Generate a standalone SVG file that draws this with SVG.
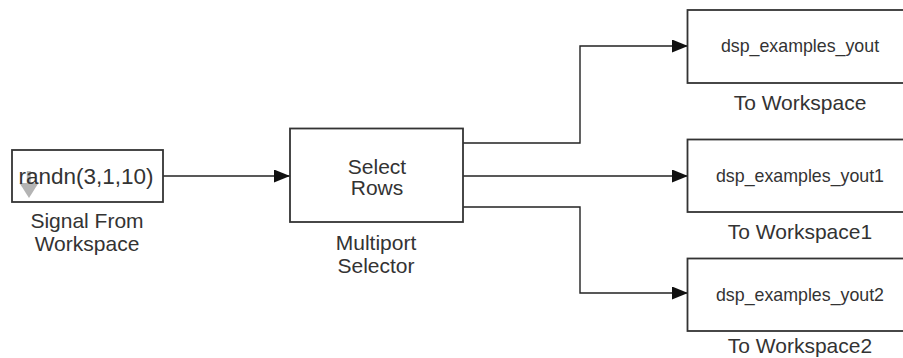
<svg xmlns="http://www.w3.org/2000/svg" width="903" height="358" viewBox="0 0 903 358">
<style>
  .blk { fill: #ffffff; stroke: #333333; stroke-width: 1.8; }
  .wire { fill: none; stroke: #222222; stroke-width: 1.4; }
  text { font-family: "Liberation Sans", Arial, Helvetica, sans-serif; fill: #333333; text-anchor: middle; }
  .lbl { font-size: 21px; }
  .in { font-size: 21px; }
  .ws { font-size: 17.8px; }
</style>
<defs>
  <marker id="arr" markerWidth="16" markerHeight="13" refX="16" refY="6.5" orient="auto" markerUnits="userSpaceOnUse">
    <path d="M0,0 L16,6.5 L0,13 Z" fill="#111111"/>
  </marker>
</defs>
<rect width="903" height="358" fill="#ffffff"/>

<g id="connectors">
  <path class="wire" d="M163,176 H290" marker-end="url(#arr)"/>
  <path class="wire" d="M463,143 H580 V46 H688" marker-end="url(#arr)"/>
  <path class="wire" d="M463,176 H688" marker-end="url(#arr)"/>
  <path class="wire" d="M463,207 H580 V293 H688" marker-end="url(#arr)"/>
</g>

<g id="signal-from-workspace">
  <rect class="blk" x="12" y="150" width="151" height="52"/>
  <rect x="26.8" y="171" width="4" height="12.5" fill="#b4b4b4"/>
  <path d="M19.5,183 L38.5,183 L29,198 Z" fill="#b4b4b4"/>
  <text class="in" x="86" y="184" style="font-size:22.5px">randn(3,1,10)</text>
  <text class="lbl" x="87" y="228">Signal From</text>
  <text class="lbl" x="87" y="251">Workspace</text>
</g>

<g id="multiport-selector">
  <rect class="blk" x="290" y="128.5" width="173" height="93.5"/>
  <text class="in" x="377" y="174">Select</text>
  <text class="in" x="377" y="195">Rows</text>
  <text class="lbl" x="376" y="250">Multiport</text>
  <text class="lbl" x="376" y="273">Selector</text>
</g>

<g id="to-workspace">
  <rect class="blk" x="687.5" y="10" width="226" height="73"/>
  <text class="ws" x="800" y="52">dsp_examples_yout</text>
  <text class="lbl" x="800" y="110">To Workspace</text>
</g>

<g id="to-workspace1">
  <rect class="blk" x="687.5" y="139.5" width="226" height="72.5"/>
  <text class="ws" x="800" y="181.5">dsp_examples_yout1</text>
  <text class="lbl" x="800" y="239">To Workspace1</text>
</g>

<g id="to-workspace2">
  <rect class="blk" x="687.5" y="258.5" width="226" height="72.5"/>
  <text class="ws" x="800" y="300.5">dsp_examples_yout2</text>
  <text class="lbl" x="800" y="353">To Workspace2</text>
</g>
</svg>
